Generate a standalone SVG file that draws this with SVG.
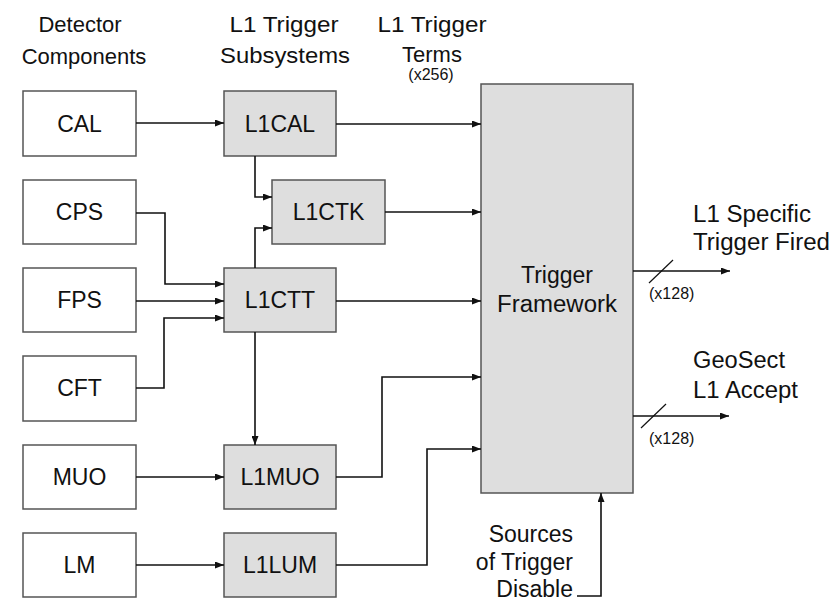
<svg xmlns="http://www.w3.org/2000/svg" width="831" height="602" viewBox="0 0 831 602">
<style>
text { font-family: "Liberation Sans", Arial, sans-serif; fill: #111; }
.lbl { font-size: 23px; text-anchor: middle; }
.hdr { font-size: 22px; text-anchor: middle; }
.sm { font-size: 16px; }
.det { fill: #ffffff; stroke: #555; stroke-width: 1.5; }
.sub { fill: #dedede; stroke: #555; stroke-width: 1.5; }
.conn path { fill: none; stroke: #111; stroke-width: 1.6; }
.conn path.arr { marker-end: url(#ah); }
</style>
<defs>
<marker id="ah" markerUnits="userSpaceOnUse" markerWidth="9" markerHeight="7" refX="9" refY="3.5" orient="auto">
<path d="M0,0 L9,3.5 L0,7 z" fill="#111"/>
</marker>
</defs>
<rect width="831" height="602" fill="#ffffff"/>

<g id="headers">
<text class="hdr" x="80" y="32">Detector</text>
<text class="hdr" x="84" y="64">Components</text>
<text class="hdr" x="284" y="32" textLength="109" lengthAdjust="spacingAndGlyphs">L1 Trigger</text>
<text class="hdr" x="285" y="63" textLength="130" lengthAdjust="spacingAndGlyphs">Subsystems</text>
<text class="hdr" x="432" y="32" textLength="109" lengthAdjust="spacingAndGlyphs">L1 Trigger</text>
<text class="hdr" x="432" y="62">Terms</text>
<text class="sm" x="431" y="80" text-anchor="middle">(x256)</text>
</g>

<g id="cal"><rect class="det" x="23" y="91" width="113" height="65"/><text class="lbl" x="79.5" y="132">CAL</text></g>
<g id="cps"><rect class="det" x="23" y="180" width="113" height="64"/><text class="lbl" x="79.5" y="220">CPS</text></g>
<g id="fps"><rect class="det" x="23" y="268" width="113" height="64"/><text class="lbl" x="79.5" y="308">FPS</text></g>
<g id="cft"><rect class="det" x="23" y="356" width="113" height="65"/><text class="lbl" x="79.5" y="396">CFT</text></g>
<g id="muo"><rect class="det" x="23" y="445" width="113" height="64"/><text class="lbl" x="79.5" y="485">MUO</text></g>
<g id="lm"><rect class="det" x="23" y="533" width="113" height="64"/><text class="lbl" x="79.5" y="573">LM</text></g>

<g id="l1cal"><rect class="sub" x="224" y="91" width="112" height="65"/><text class="lbl" x="280" y="132">L1CAL</text></g>
<g id="l1ctk"><rect class="sub" x="272" y="180" width="113" height="64"/><text class="lbl" x="328.5" y="220">L1CTK</text></g>
<g id="l1ctt"><rect class="sub" x="224" y="268" width="112" height="64"/><text class="lbl" x="280" y="308">L1CTT</text></g>
<g id="l1muo"><rect class="sub" x="224" y="445" width="112" height="64"/><text class="lbl" x="280" y="485">L1MUO</text></g>
<g id="l1lum"><rect class="sub" x="224" y="533" width="112" height="64"/><text class="lbl" x="280" y="573">L1LUM</text></g>

<g id="tf"><rect class="sub" x="481" y="84" width="152" height="409"/>
<text class="lbl" x="557" y="283">Trigger</text>
<text class="lbl" x="557" y="312" textLength="120" lengthAdjust="spacingAndGlyphs">Framework</text>
</g>

<g id="outputs">
<text class="lbl" x="693" y="222" style="text-anchor:start" textLength="118" lengthAdjust="spacingAndGlyphs">L1 Specific</text>
<text class="lbl" x="693" y="250" style="text-anchor:start" textLength="137" lengthAdjust="spacingAndGlyphs">Trigger Fired</text>
<text class="sm" x="649" y="299">(x128)</text>
<text class="lbl" x="693" y="368" style="text-anchor:start" textLength="92" lengthAdjust="spacingAndGlyphs">GeoSect</text>
<text class="lbl" x="693" y="398" style="text-anchor:start" textLength="105" lengthAdjust="spacingAndGlyphs">L1 Accept</text>
<text class="sm" x="649" y="444">(x128)</text>
</g>

<g id="disable">
<text class="lbl" x="573" y="542" style="text-anchor:end">Sources</text>
<text class="lbl" x="573" y="570" style="text-anchor:end">of Trigger</text>
<text class="lbl" x="573" y="597" style="text-anchor:end">Disable</text>
</g>

<g id="connectors" class="conn">
<path class="arr" d="M136,123 H224"/>
<path class="arr" d="M336,124 H481"/>
<path class="arr" d="M255,156 V197 H272"/>
<path class="arr" d="M255,268 V228 H272"/>
<path class="arr" d="M385,212 H481"/>
<path class="arr" d="M136,213 H165 V284 H224"/>
<path class="arr" d="M136,301 H224"/>
<path class="arr" d="M136,388 H164 V318 H224"/>
<path class="arr" d="M336,301 H481"/>
<path class="arr" d="M255,332 V445"/>
<path class="arr" d="M136,477 H224"/>
<path class="arr" d="M336,477 H382 V377 H481"/>
<path class="arr" d="M136,565 H224"/>
<path class="arr" d="M336,565 H427 V449 H481"/>
<path class="arr" d="M633,271 H730"/>
<path class="arr" d="M633,416 H729"/>
<path class="arr" d="M577,596 H601 V493"/>
<path d="M649,283 L673,260" style="stroke-width:1.2"/>
<path d="M641,428 L666,404" style="stroke-width:1.2"/>
</g>
</svg>
